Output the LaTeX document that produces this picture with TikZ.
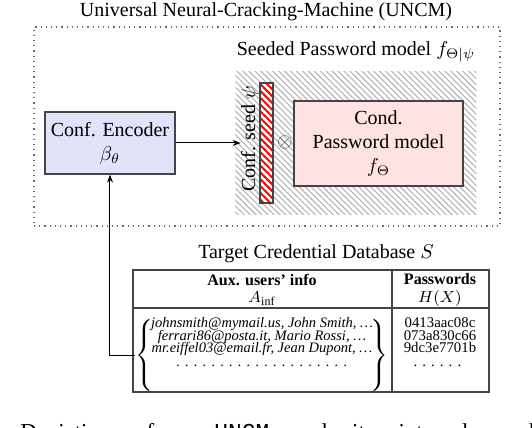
\documentclass[tikz,border=0pt]{standalone}
\usepackage{amsmath}
\usepackage{fontspec}
\setmainfont{Liberation Serif}
\setmonofont{Liberation Mono}
\usepackage{tikz}
\usetikzlibrary{positioning,arrows.meta,patterns.meta,calc}
\definecolor{cEnc}{HTML}{E2E2F8}
\definecolor{cPw}{HTML}{FFE3E3}
\definecolor{cEdge}{HTML}{444444}
\definecolor{cHatch}{HTML}{B4B4B4}
\definecolor{cDot}{HTML}{6A6A6A}
\newcommand{\dotrun}[1]{\makebox[#1]{\leaders\hbox to 4.4pt{\hss.\hss}\hfill}}

\begin{document}
\begin{tikzpicture}[
  x=0.5pt, y=-0.5pt,
  font=\fontsize{10}{12}\selectfont,
  >={Stealth[length=4pt,width=3pt]},
  frame/.style={draw=cDot, dotted, line width=0.6pt, minimum width=233pt, minimum height=99.5pt},
  hatch/.style={inner sep=0pt, minimum width=120.5pt, minimum height=71.5pt,
                pattern={Lines[angle=-45,distance=2.1pt,line width=0.55pt]}, pattern color=cHatch},
  blk/.style={draw=cEdge, line width=0.6pt, align=center, inner sep=0pt},
  enc/.style={blk, fill=cEnc, minimum width=65pt, minimum height=31pt},
  pwm/.style={blk, fill=cPw, minimum width=84.5pt, minimum height=42.5pt},
  seedbar/.style={draw=cEdge, line width=0.6pt, inner sep=0pt, minimum width=6.5pt, minimum height=60pt,
                  preaction={fill=white}, pattern={Lines[angle=-45,distance=2.4pt,line width=1pt]}, pattern color=red},
  tbl/.style={draw=cEdge, line width=0.6pt, minimum width=178pt, minimum height=61pt},
  tblrule/.style={draw=cEdge, line width=0.6pt},
  hdr/.style={align=center, inner sep=0pt, font=\fontsize{8}{8.6}\selectfont},
  row/.style={anchor=base, inner sep=0pt, font=\fontsize{7.4}{9}\selectfont},
  auxrow/.style={row, font=\fontsize{7.25}{9}\selectfont\itshape},
  brace/.style={inner sep=0pt},
  flow/.style={->, draw=black, line width=0.5pt},
]
\useasboundingbox (0,0) rectangle (532,428);

% UNCM frame
\node (title) at (266,12) {Universal Neural-Cracking-Machine (UNCM)};
\node[frame] (uncm) at (267,126.5) {};

% seeded model
\node[hatch] (seeded) at (356,143.5) {};
\node (seededlbl) at (356,52) {Seeded Password model $f_{\Theta|\psi}$};
\node[seedbar] (seed) at (266.5,143) {};
\node[rotate=90, inner sep=0pt] (seedlbl) at (250,139) {Conf. seed $\psi$};
\node[text=black!75, inner sep=0pt] (mix) at (285,143) {$\otimes$};
\node[pwm] (pw) at (378.5,143.5) {Cond.\\Password model\\$f_\Theta$};

% encoder
\node[enc] (enc) at (110,143) {Conf. Encoder\\$\beta_\theta$};

% database
\node (dblbl) at (316,254) {Target Credential Database $S$};
\node[tbl] (db) at (311,331) {};
\draw[tblrule] (db.west |- 0,308) -- (db.east |- 0,308);
\draw[tblrule] (392,0 |- db.north) -- (392,0 |- db.south);
\node[hdr] (auxh) at (262,290) {\textbf{Aux. users' info}\\$A_\text{inf}$};
\node[hdr] (pwh) at (440,290) {\textbf{Passwords}\\$H(X)$};

\node[brace, anchor=west] (lbrace) at (135,356) {$\left\{\vcenter{\hbox{\rule{0pt}{34pt}}}\right.$};
\node[brace, anchor=east] (rbrace) at (389,356) {$\left.\vcenter{\hbox{\rule{0pt}{34pt}}}\right\}$};
\node[auxrow] (aux1) at (262,328) {johnsmith@mymail.us, John Smith, \ldots};
\node[auxrow] (aux2) at (262,340.5) {ferrari86@posta.it, Mario Rossi, \ldots};
\node[auxrow] (aux3) at (262,353) {mr.eiffel03@email.fr, Jean Dupont, \ldots};
\node[auxrow] (aux4) at (262,366) {\dotrun{88pt}};
\node[row] (hash1) at (440,328) {0413aac08c};
\node[row] (hash2) at (440,340.5) {073a830c66};
\node[row] (hash3) at (440,353) {9dc3e7701b};
\node[row] (hash4) at (438,366) {\dotrun{27pt}};

% connectors
\draw[flow] (enc) -- (enc -| seedlbl.north);
\draw[flow] (lbrace.west) -| (enc.south);

% cut caption
\begin{scope}
\clip (0,0) rectangle (532,428);
\node[anchor=base west, inner sep=0pt, font=\fontsize{11.4}{13}\selectfont] (caption) at (20,440)
  {\makebox[274.5pt][s]{Depiction of a \texttt{UNCM} and its internal working}};
\end{scope}
\end{tikzpicture}
\end{document}
